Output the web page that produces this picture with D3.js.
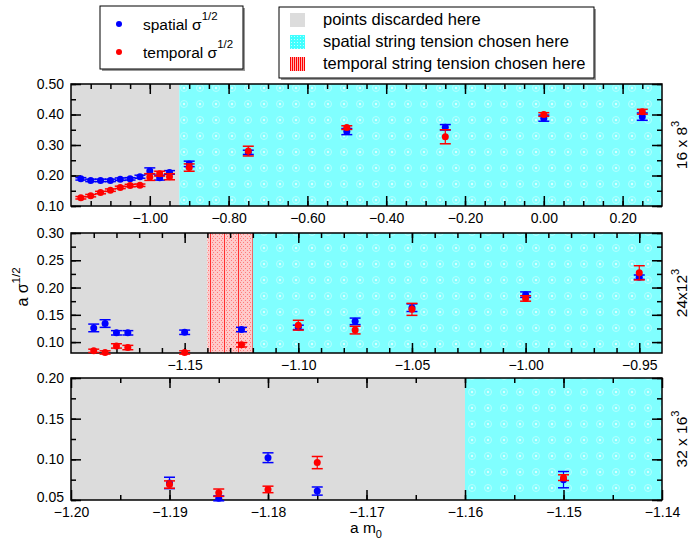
<!DOCTYPE html>
<html>
  <head>
    <title>String tension vs a m0</title>
    <script src="https://d3js.org/d3.v7.min.js"></script>
    <style>
      body { margin: 0; background: #fff; }
      text { font-family: "Liberation Sans", Arial, sans-serif; fill: #000; }
    </style>
  </head>
  <body>
    <div id="chart"></div>

    <script>
      // ---- data: panel 1 (16 x 8^3) ----
      const p1Mass = [-1.175, -1.15, -1.125, -1.1, -1.075, -1.05, -1.025, -1.0, -0.975, -0.95, -0.9, -0.75, -0.5, -0.25, 0.0, 0.25];
      const p1Spatial = [0.189, 0.184, 0.184, 0.184, 0.188, 0.189, 0.196, 0.215, 0.193, 0.210, 0.238, 0.276, 0.344, 0.358, 0.388, 0.393];
      const p1SpatialErr = [0.004, 0.004, 0.004, 0.004, 0.004, 0.004, 0.005, 0.010, 0.008, 0.006, 0.009, 0.007, 0.010, 0.009, 0.010, 0.012];
      const p1Temporal = [0.127, 0.134, 0.144, 0.152, 0.161, 0.167, 0.168, 0.195, 0.206, 0.196, 0.226, 0.280, 0.357, 0.327, 0.400, 0.409];
      const p1TemporalErr = [0.004, 0.004, 0.004, 0.004, 0.004, 0.004, 0.004, 0.011, 0.008, 0.010, 0.012, 0.016, 0.006, 0.023, 0.006, 0.008];

      // ---- data: panel 2 (24 x 12^3) ----
      const p2Mass = [-1.19, -1.185, -1.18, -1.175, -1.15, -1.125, -1.1, -1.075, -1.05, -1.0, -0.95];
      const p2Spatial = [0.126, 0.134, 0.117, 0.117, 0.118, 0.123, 0.127, 0.138, 0.163, 0.187, 0.219];
      const p2SpatialErr = [0.007, 0.007, 0.004, 0.004, 0.004, 0.004, 0.004, 0.006, 0.007, 0.005, 0.004];
      const p2Temporal = [0.084, 0.081, 0.093, 0.090, 0.081, 0.095, 0.131, 0.122, 0.160, 0.180, 0.227];
      const p2TemporalErr = [0.003, 0.003, 0.004, 0.004, 0.003, 0.004, 0.009, 0.007, 0.011, 0.005, 0.013];

      // ---- data: panel 3 (32 x 16^3) ----
      const p3Mass = [-1.19, -1.185, -1.18, -1.175, -1.15];
      const p3Spatial = [0.071, 0.052, 0.102, 0.061, 0.075];
      const p3SpatialErr = [0.007, 0.003, 0.006, 0.005, 0.010];
      const p3Temporal = [0.069, 0.059, 0.063, 0.096, 0.0775];
      const p3TemporalErr = [0.0045, 0.0045, 0.004, 0.0075, 0.0035];

      // ---- shaded regions [from, to, kind] ----
      const p1Regions = [[-1.2, -0.925, "discard"], [-0.925, 0.3, "spatial"]];
      const p2Regions = [[-1.2, -1.14, "discard"], [-1.14, -1.12, "temporal"], [-1.12, -0.94, "spatial"]];
      const p3Regions = [[-1.2, -1.16, "discard"], [-1.16, -1.14, "spatial"]];

      // ---- tick labels ----
      const p1XTicks = [-1.0, -0.8, -0.6, -0.4, -0.2, 0.0, 0.2];
      const p1YTicks = [0.10, 0.20, 0.30, 0.40, 0.50];
      const p2XTicks = [-1.15, -1.10, -1.05, -1.00, -0.95];
      const p2YTicks = [0.10, 0.15, 0.20, 0.25, 0.30];
      const p3XTicks = [-1.20, -1.19, -1.18, -1.17, -1.16, -1.15, -1.14];
      const p3YTicks = [0.05, 0.10, 0.15, 0.20];

      const width = 691, height = 540;
      const left = 71, right = 662;

      const svg = d3.select("#chart").append("svg")
        .attr("width", width).attr("height", height);

      // patterns
      const defs = svg.append("defs");
      const cyan = defs.append("pattern").attr("id", "cyanPat")
        .attr("patternUnits", "userSpaceOnUse").attr("width", 16).attr("height", 16);
      cyan.append("rect").attr("width", 16).attr("height", 16).attr("fill", "#80ffff");
      cyan.append("circle").attr("cx", 8).attr("cy", 8).attr("r", 3.5).attr("fill", "none")
        .attr("stroke", "#b4ffff").attr("stroke-width", 1);
      cyan.append("circle").attr("cx", 8).attr("cy", 8).attr("r", 1.2).attr("fill", "#d8ffff");

      const cyanSmall = defs.append("pattern").attr("id", "cyanSmall")
        .attr("patternUnits", "userSpaceOnUse").attr("width", 3).attr("height", 3);
      cyanSmall.append("rect").attr("width", 3).attr("height", 3).attr("fill", "#40ffff");
      cyanSmall.append("rect").attr("width", 1).attr("height", 1).attr("fill", "#c0ffff");

      const red = defs.append("pattern").attr("id", "redPat")
        .attr("patternUnits", "userSpaceOnUse").attr("width", 14).attr("height", 4);
      red.append("rect").attr("width", 14).attr("height", 4).attr("fill", "#ffcaca");
      red.append("rect").attr("x", 0).attr("width", 1).attr("height", 4).attr("fill", "#ff3030");
      [[3, 0], [5, 2], [7, 0], [9, 2], [11, 0], [2, 2], [12, 2]].forEach(p => {
        red.append("rect").attr("x", p[0]).attr("y", p[1]).attr("width", 1).attr("height", 1).attr("fill", "#ff7a7a");
      });

      const redSmall = defs.append("pattern").attr("id", "redSmall")
        .attr("patternUnits", "userSpaceOnUse").attr("width", 2).attr("height", 2);
      redSmall.append("rect").attr("width", 2).attr("height", 2).attr("fill", "#ffb0b0");
      redSmall.append("rect").attr("width", 1).attr("height", 2).attr("fill", "#ff0000");

      const fills = { discard: "#dcdcdc", spatial: "url(#cyanPat)", temporal: "url(#redPat)" };

      function drawPanel(cfg) {
        const x = d3.scaleLinear().domain(cfg.xDomain).range([left, right]);
        const y = d3.scaleLinear().domain(cfg.yDomain).range([cfg.bottom, cfg.top]);
        const g = svg.append("g");

        // shaded regions
        g.selectAll("rect.region").data(cfg.regions).enter().append("rect")
          .attr("class", "region")
          .attr("x", d => x(d[0]))
          .attr("width", d => x(d[1]) - x(d[0]))
          .attr("y", cfg.top)
          .attr("height", cfg.bottom - cfg.top)
          .attr("fill", d => fills[d[2]]);

        const fmt = d3.format(".2f");
        const styleAxis = (a) => {
          a.select(".domain").remove();
          a.selectAll("line").attr("stroke", "#000").attr("stroke-width", 1.5);
          a.selectAll("text").style("font-size", "14px")
            .style("font-family", "'Liberation Sans', Arial, sans-serif");
        };

        // bottom axis with labels
        g.append("g").attr("transform", `translate(0,${cfg.bottom})`)
          .call(d3.axisBottom(x).tickValues(cfg.xMinor).tickSize(-5).tickFormat(""))
          .call(styleAxis);
        g.append("g").attr("transform", `translate(0,${cfg.bottom})`)
          .call(d3.axisBottom(x).tickValues(cfg.xTicks).tickSize(-10).tickPadding(7).tickFormat(fmt))
          .call(styleAxis);
        // top axis
        g.append("g").attr("transform", `translate(0,${cfg.top})`)
          .call(d3.axisTop(x).tickValues(cfg.xMinor).tickSize(-5).tickFormat(""))
          .call(styleAxis);
        g.append("g").attr("transform", `translate(0,${cfg.top})`)
          .call(d3.axisTop(x).tickValues(cfg.xTicks).tickSize(-10).tickFormat(""))
          .call(styleAxis);
        // left axis
        g.append("g").attr("transform", `translate(${left},0)`)
          .call(d3.axisLeft(y).tickValues(cfg.yMinor).tickSize(-5).tickFormat(""))
          .call(styleAxis);
        const ly = g.append("g").attr("transform", `translate(${left},0)`)
          .call(d3.axisLeft(y).tickValues(cfg.yTicks).tickSize(-10).tickPadding(7).tickFormat(fmt))
          .call(styleAxis);
        if (cfg.liftFirst) {
          // lowest label sits just above the x labels, as in the original
          ly.selectAll(".tick text").filter((d, i) => i === 0).attr("dy", "0.1em");
        }
        // right axis
        g.append("g").attr("transform", `translate(${right},0)`)
          .call(d3.axisRight(y).tickValues(cfg.yMinor).tickSize(-5).tickFormat(""))
          .call(styleAxis);
        g.append("g").attr("transform", `translate(${right},0)`)
          .call(d3.axisRight(y).tickValues(cfg.yTicks).tickSize(-10).tickFormat(""))
          .call(styleAxis);

        // frame
        g.append("rect").attr("x", left).attr("y", cfg.top)
          .attr("width", right - left).attr("height", cfg.bottom - cfg.top)
          .attr("fill", "none").attr("stroke", "#000").attr("stroke-width", 1.5);

        // series with error bars
        const series = [
          { vals: cfg.spatial, errs: cfg.spatialErr, color: "#0000ff" },
          { vals: cfg.temporal, errs: cfg.temporalErr, color: "#ff0000" }
        ];
        series.forEach(s => {
          const pts = cfg.mass.map((m, i) => ({ m: m, v: s.vals[i], e: s.errs[i] }));
          const sg = g.append("g");
          sg.selectAll("line.bar").data(pts).enter().append("line")
            .attr("x1", d => x(d.m)).attr("x2", d => x(d.m))
            .attr("y1", d => y(d.v - d.e)).attr("y2", d => y(d.v + d.e))
            .attr("stroke", s.color).attr("stroke-width", 1.2);
          [-1, 1].forEach(sign => {
            sg.selectAll(null).data(pts).enter().append("line")
              .attr("x1", d => x(d.m) - 5.5).attr("x2", d => x(d.m) + 5.5)
              .attr("y1", d => y(d.v + sign * d.e)).attr("y2", d => y(d.v + sign * d.e))
              .attr("stroke", s.color).attr("stroke-width", 1.5);
          });
          sg.selectAll("circle").data(pts).enter().append("circle")
            .attr("cx", d => x(d.m)).attr("cy", d => y(d.v)).attr("r", 3.5)
            .attr("fill", s.color);
        });

        // right-hand lattice label
        const lab = svg.append("text")
          .attr("transform", `translate(687,${(cfg.top + cfg.bottom) / 2}) rotate(-90)`)
          .attr("text-anchor", "middle").style("font-size", "15.5px");
        lab.append("tspan").text(cfg.label);
        lab.append("tspan").attr("dy", -8).style("font-size", "11px").text("3");

        return { x, y };
      }

      drawPanel({
        top: 84, bottom: 206, xDomain: [-1.2, 0.3], yDomain: [0.1, 0.5],
        regions: p1Regions, xTicks: p1XTicks, xMinor: d3.range(-23, 6).map(i => i * 0.05),
        yTicks: p1YTicks, yMinor: d3.range(2, 11).map(i => i * 0.05),
        mass: p1Mass, spatial: p1Spatial, spatialErr: p1SpatialErr,
        temporal: p1Temporal, temporalErr: p1TemporalErr, label: "16 x 8"
      });
      drawPanel({
        top: 233, bottom: 353, xDomain: [-1.2, -0.94], yDomain: [0.08, 0.3],
        regions: p2Regions, xTicks: p2XTicks, xMinor: d3.range(-119, -94).map(i => i * 0.01),
        yTicks: p2YTicks, yMinor: d3.range(4, 13).map(i => i * 0.025),
        mass: p2Mass, spatial: p2Spatial, spatialErr: p2SpatialErr,
        temporal: p2Temporal, temporalErr: p2TemporalErr, label: "24x12"
      });
      drawPanel({
        top: 378, bottom: 500, xDomain: [-1.2, -1.14], yDomain: [0.05, 0.2],
        regions: p3Regions, xTicks: p3XTicks, xMinor: d3.range(-239, -228).map(i => i * 0.005),
        yTicks: p3YTicks, yMinor: d3.range(2, 9).map(i => i * 0.025),
        mass: p3Mass, spatial: p3Spatial, spatialErr: p3SpatialErr,
        temporal: p3Temporal, temporalErr: p3TemporalErr, label: "32 x 16", liftFirst: true
      });

      // axis titles
      const yt = svg.append("text")
        .attr("transform", "translate(28,287) rotate(-90)")
        .attr("text-anchor", "middle").style("font-size", "16px");
      yt.append("tspan").text("a σ");
      yt.append("tspan").attr("dy", -8).style("font-size", "11.5px").text("1/2");

      const xt = svg.append("text").attr("x", 350).attr("y", 533).style("font-size", "15.5px");
      xt.append("tspan").text("a m");
      xt.append("tspan").attr("dy", 5).style("font-size", "11px").text("0");

      // legend 1: series
      const leg1 = svg.append("g");
      leg1.append("rect").attr("x", 102).attr("y", 8).attr("width", 143).attr("height", 63).attr("fill", "#999");
      leg1.append("rect").attr("x", 100).attr("y", 6).attr("width", 143).attr("height", 63)
        .attr("fill", "#fff").attr("stroke", "#000").attr("stroke-width", 1);
      [["spatial σ", "#0000ff", 24], ["temporal σ", "#ff0000", 52]].forEach(d => {
        leg1.append("circle").attr("cx", 119).attr("cy", d[2]).attr("r", 3).attr("fill", d[1]);
        const t = leg1.append("text").attr("x", 143).attr("y", d[2] + 6).style("font-size", "15.5px");
        t.append("tspan").text(d[0]);
        t.append("tspan").attr("dy", -10).style("font-size", "11.5px").text("1/2");
      });

      // legend 2: shaded regions
      const leg2 = svg.append("g");
      leg2.append("rect").attr("x", 281).attr("y", 9).attr("width", 315).attr("height", 71).attr("fill", "#999");
      leg2.append("rect").attr("x", 279).attr("y", 7).attr("width", 315).attr("height", 71)
        .attr("fill", "#fff").attr("stroke", "#000").attr("stroke-width", 1);
      [["points discarded here", "#dcdcdc", 13], ["spatial string tension chosen here", "url(#cyanSmall)", 35],
       ["temporal string tension chosen here", "url(#redSmall)", 57]].forEach(d => {
        leg2.append("rect").attr("x", 290).attr("y", d[2]).attr("width", 15).attr("height", 14).attr("fill", d[1]);
        leg2.append("text").attr("x", 323).attr("y", d[2] + 12).style("font-size", "16.5px").text(d[0]);
      });
    </script>
  </body>
</html>
